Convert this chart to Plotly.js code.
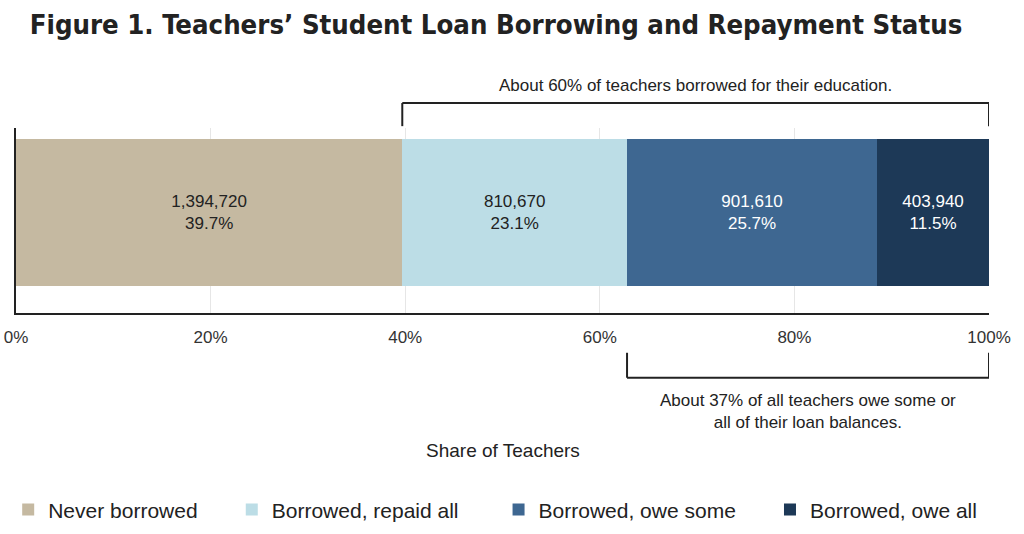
<!DOCTYPE html>
<html>
<head>
<meta charset="utf-8">
<script src="https://cdn.plot.ly/plotly-3.0.1.min.js"></script>
<style>
  html, body { margin: 0; padding: 0; background: #fff; }
  #chart { width: 1024px; height: 534px; }
</style>
</head>
<body>
<div id="chart"></div>
<script>
// status groups, left to right
var groups = ["Never borrowed", "Borrowed, repaid all", "Borrowed, owe some", "Borrowed, owe all"];
var counts = [1394720, 810670, 901610, 403940];
var shares = [39.7, 23.1, 25.7, 11.5];
var colors = ["#c5b9a1", "#bcdde6", "#3e6791", "#1d3957"];
var labelColors = ["#222222", "#222222", "#ffffff", "#ffffff"];
var tickVals = [0, 20, 40, 60, 80, 100];
// extra room after each legend label, to space the entries like the original
var legendPad = [5, 6, 5, 0];

var bodyFont = "Liberation Sans, Arial, sans-serif";
var nbsp = "\u00a0";

// one horizontal bar per group, stacked
var data = groups.map(function (g, i) {
  return {
    type: "bar",
    orientation: "h",
    name: g + nbsp.repeat(legendPad[i]),
    y: [0],
    x: [shares[i]],
    width: 1,
    marker: { color: colors[i], line: { width: 0 } },
    text: [counts[i].toLocaleString("en-US") + "<br>" + shares[i].toFixed(1) + "%"],
    textposition: "inside",
    insidetextanchor: "middle",
    textfont: { family: bodyFont, size: 17, color: labelColors[i] },
    hoverinfo: "skip"
  };
});

// bracket edges come from the cumulative shares
var borrowedStart = shares[0];
var oweStart = shares[0] + shares[1];

var bracketLine = { color: "#222", width: 2 };
var shapes = [
  // top bracket: everyone who borrowed
  { type: "line", xref: "x", yref: "paper", x0: borrowedStart, x1: borrowedStart, y0: 1.01, y1: 1.135, line: bracketLine },
  { type: "line", xref: "x", yref: "paper", x0: borrowedStart, x1: 100, y0: 1.135, y1: 1.135, line: bracketLine },
  { type: "line", xref: "x", yref: "paper", x0: 100, x1: 100, y0: 1.01, y1: 1.135, line: bracketLine },
  // bottom bracket: those still owing
  { type: "line", xref: "x", yref: "paper", x0: oweStart, x1: oweStart, y0: -0.215, y1: -0.35, line: bracketLine },
  { type: "line", xref: "x", yref: "paper", x0: oweStart, x1: 100, y0: -0.35, y1: -0.35, line: bracketLine },
  { type: "line", xref: "x", yref: "paper", x0: 100, x1: 100, y0: -0.215, y1: -0.35, line: bracketLine }
];

var annotations = [
  { xref: "x", yref: "paper", x: (borrowedStart + 100) / 2, y: 1.23,
    xanchor: "center", yanchor: "middle", showarrow: false,
    text: "About 60% of teachers borrowed for their education.",
    font: { family: bodyFont, size: 17, color: "#222" } },
  { xref: "x", yref: "paper", x: (oweStart + 100) / 2, y: -0.532,
    xanchor: "center", yanchor: "middle", showarrow: false,
    text: "About 37% of all teachers owe some or<br>all of their loan balances.",
    font: { family: bodyFont, size: 17, color: "#222", lineheight: 1.4 }, align: "center" },
  { xref: "paper", yref: "paper", x: 0.5, y: -0.745,
    xanchor: "center", yanchor: "middle", showarrow: false,
    text: "Share of Teachers",
    font: { family: bodyFont, size: 19, color: "#222" } }
];

var layout = {
  width: 1024,
  height: 534,
  margin: { l: 16, r: 35, t: 128, b: 221, autoexpand: false },
  paper_bgcolor: "#ffffff",
  plot_bgcolor: "#ffffff",
  barmode: "stack",
  showlegend: true,
  title: {
    text: "<b>Figure 1. Teachers’ Student Loan Borrowing and Repayment Status</b>",
    x: 0.029, xanchor: "left", xref: "container",
    y: 0.955, yanchor: "middle", yref: "container",
    font: { family: "DejaVu Sans Condensed, sans-serif", size: 27.3, color: "#222" }
  },
  xaxis: {
    range: [0, 100],
    tickvals: tickVals,
    ticktext: tickVals.map(function (v) { return v + "%"; }),
    ticks: "",
    ticklabelstandoff: 8,
    tickfont: { family: bodyFont, size: 17, color: "#333" },
    showgrid: true,
    gridcolor: "#e6e6e6",
    gridwidth: 1,
    zeroline: false,
    showline: true,
    linecolor: "#222",
    linewidth: 2,
    fixedrange: true
  },
  yaxis: {
    range: [-0.684, 0.575],
    showticklabels: false,
    ticks: "",
    showgrid: false,
    zeroline: false,
    showline: true,
    linecolor: "#222",
    linewidth: 2,
    fixedrange: true
  },
  legend: {
    orientation: "h",
    xref: "container", yref: "container",
    x: 0.008, xanchor: "left",
    y: 0.045, yanchor: "middle",
    font: { family: bodyFont, size: 21, color: "#222" },
    traceorder: "normal",
    itemclick: false
  },
  shapes: shapes,
  annotations: annotations
};

Plotly.newPlot("chart", data, layout, { displayModeBar: false, staticPlot: true });
</script>
</body>
</html>
